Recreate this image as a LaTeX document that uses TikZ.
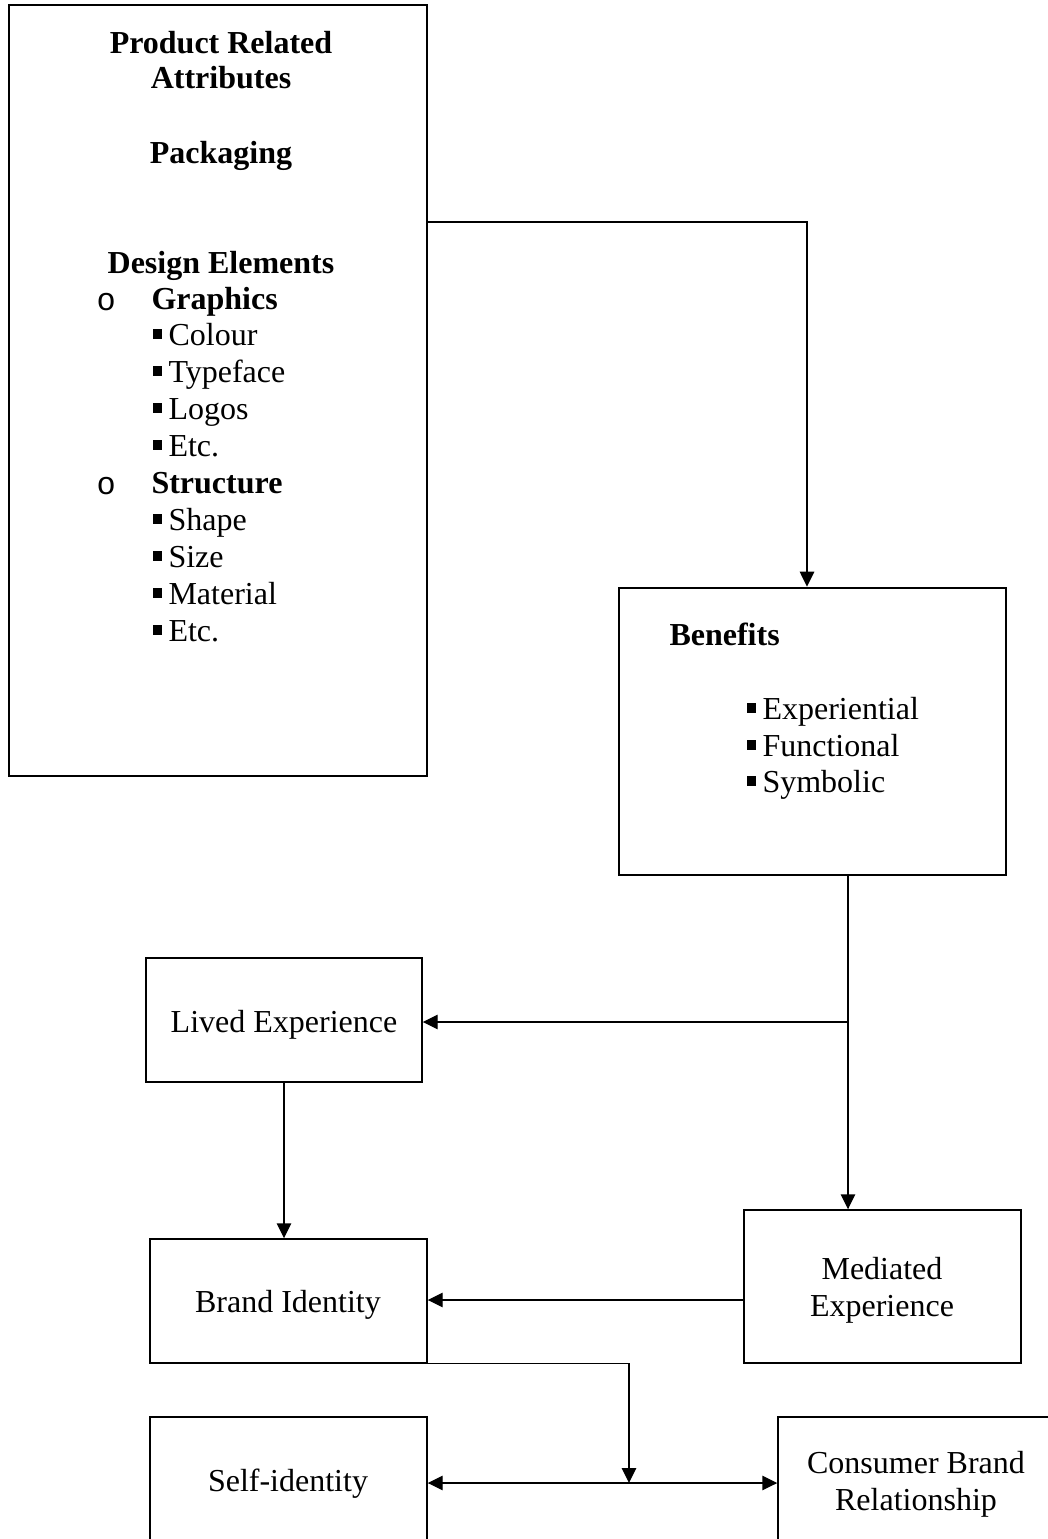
\documentclass[tikz,border=0pt]{standalone}
\usepackage{fontspec}
\setmainfont{Liberation Serif}
\newfontfamily\monof{Liberation Mono}
\usetikzlibrary{arrows.meta,fit,calc}
\newcommand\sqbul{\rule[0.19em]{0.31em}{0.31em}\hspace{0.19em}}
\tikzset{
  thickbox/.style={draw, line width=1pt, inner sep=0pt},
  thinbox/.style={draw, line width=0.55pt, inner sep=0pt},
  txt/.style={inner sep=0pt, font=\fontsize{12}{14.4}\selectfont},
  btxt/.style={txt, font=\fontsize{12}{14.4}\selectfont\bfseries},
  arr/.style={line width=0.5pt, -{Triangle[length=5.6pt,width=5.4pt]}},
  arrtwo/.style={line width=0.5pt, {Triangle[length=5.6pt,width=5.4pt]}-{Triangle[length=5.6pt,width=5.4pt]}},
}
\begin{document}
\begin{tikzpicture}[x=0.375pt, y=-0.375pt]
\useasboundingbox (0,0) rectangle (1048,1539);
\fill[white] (0,0) rectangle (1048,1539);
\clip (0,0) rectangle (1048,1539);

% boxes
\node[thickbox, fit={(9,5) (427,776)}] (pra) {};
\node[thickbox, fit={(619,588) (1006,875)}] (ben) {};
\node[thinbox, fit={(146,958) (422,1082)}] (lived) {};
\node[thinbox, fit={(150,1239) (427,1363)}] (brand) {};
\node[thinbox, fit={(744,1210) (1021,1363)}] (med) {};
\node[thinbox, fit={(150,1417) (427,1620)}] (self) {};
\node[thinbox, fit={(778,1417) (1120,1620)}] (cbr) {};

% texts of Product Related Attributes box
\node[btxt, anchor=base] (t1) at (221,53) {Product Related};
\node[btxt, anchor=base] (t2) at (221,88) {Attributes};
\node[btxt, anchor=base] (t3) at (221,163) {Packaging};
\node[btxt, anchor=base] (t4) at (221,273) {Design Elements};
\node[txt, anchor=base west] (o1) at (96,310) {\monof o};
\node[btxt, anchor=base west] (t5) at (151,309) {Graphics};
\node[txt, anchor=base west] (t6) at (152,345) {\sqbul Colour};
\node[txt, anchor=base west] (t7) at (152,382) {\sqbul Typeface};
\node[txt, anchor=base west] (t8) at (152,419) {\sqbul Logos};
\node[txt, anchor=base west] (t9) at (152,456) {\sqbul Etc.};
\node[txt, anchor=base west] (o2) at (96,494) {\monof o};
\node[btxt, anchor=base west] (t10) at (151,493) {Structure};
\node[txt, anchor=base west] (t11) at (152,530) {\sqbul Shape};
\node[txt, anchor=base west] (t12) at (152,567) {\sqbul Size};
\node[txt, anchor=base west] (t13) at (152,604) {\sqbul Material};
\node[txt, anchor=base west] (t14) at (152,641) {\sqbul Etc.};

% Benefits
\node[btxt, anchor=base west] (b1) at (669,645) {Benefits};
\node[txt, anchor=base west] (b2) at (746,719) {\sqbul Experiential};
\node[txt, anchor=base west] (b3) at (746,756) {\sqbul Functional};
\node[txt, anchor=base west] (b4) at (746,792) {\sqbul Symbolic};

% other labels
\node[txt, anchor=base] (l1) at (284,1032) {Lived Experience};
\node[txt, anchor=base] (l2) at (288,1312) {Brand Identity};
\node[txt, anchor=base] (l3) at (882,1279) {Mediated};
\node[txt, anchor=base] (l4) at (882,1316) {Experience};
\node[txt, anchor=base] (l5) at (288,1491) {Self-identity};
\node[txt, anchor=base] (l6) at (916,1473) {Consumer Brand};
\node[txt, anchor=base] (l7) at (916,1510) {Relationship};

% helper coordinates
\coordinate (ya) at (0,222);
\coordinate (xa) at (807,0);
\coordinate (xb) at (848,0);
\coordinate (j1) at (848,1022);
\coordinate (yc) at (0,1300);
\coordinate (j2) at (629,1483);

% connectors
\draw[arr] (pra.east |- ya) -| (ben.north -| xa);
\draw[arr] (ben.south -| xb) -- (med.north -| xb);
\draw[arr] (j1) -- (lived.east |- j1);
\draw[arr] (lived.south) -- (lived.south |- brand.north);
\draw[arr] (med.west |- yc) -- (brand.east |- yc);
\draw[arr] (brand.south) -| (j2);
\draw[arrtwo] (self.east |- j2) -- (cbr.west |- j2);
\end{tikzpicture}
\end{document}
